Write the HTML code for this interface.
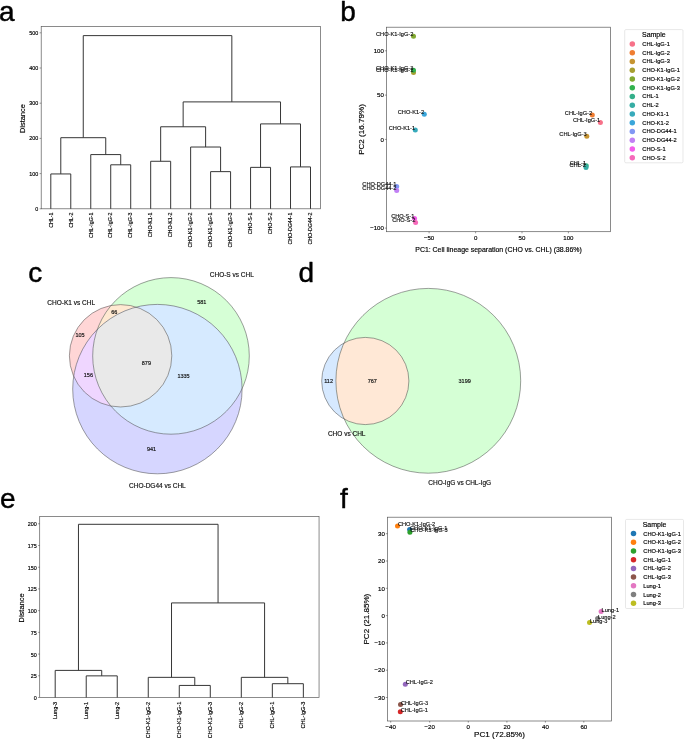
<!DOCTYPE html>
<html lang="en"><head><meta charset="utf-8"><title>Figure</title>
<style>html,body{margin:0;padding:0;background:#fff;}body{width:685px;height:740px;overflow:hidden;font-family:"Liberation Sans", sans-serif;}svg{display:block;font-family:"Liberation Sans", sans-serif;will-change:transform;}text{font-family:"Liberation Sans", sans-serif;}</style></head><body>
<svg width="685" height="740" viewBox="0 0 685 740">
<rect x="0" y="0" width="685" height="740" fill="#fff"/>
<text x="-0.9" y="20.7" font-size="28" text-anchor="start" fill="#000" stroke="#000" stroke-width="0.45" stroke-linejoin="round">a</text>
<text x="340.3" y="20.6" font-size="28" text-anchor="start" fill="#000" stroke="#000" stroke-width="0.45" stroke-linejoin="round">b</text>
<text x="28.25" y="281.9" font-size="28" text-anchor="start" fill="#000" stroke="#000" stroke-width="0.45" stroke-linejoin="round">c</text>
<text x="298.4" y="281.8" font-size="28" text-anchor="start" fill="#000" stroke="#000" stroke-width="0.45" stroke-linejoin="round">d</text>
<text x="0" y="508.1" font-size="28" text-anchor="start" fill="#000" stroke="#000" stroke-width="0.45" stroke-linejoin="round">e</text>
<text x="339.9" y="507.8" font-size="28" text-anchor="start" fill="#000" stroke="#000" stroke-width="0.45" stroke-linejoin="round">f</text>
<g id="panel-a">
<rect x="41.2" y="26.4" width="279.4" height="182.4" stroke="#5a5a5a" stroke-width="0.7" fill="none"/>
<path d="M50.8 208.8V173.95H70.78V208.8M110.73 208.8V164.8H130.71V208.8M90.75 208.8V154.59H120.72V164.8M60.79 173.95V137.7H105.74V154.59M150.68 208.8V161.28H170.66V208.8M210.62 208.8V171.63H230.59V208.8M190.64 208.8V147.02H220.6V171.63M160.67 161.28V126.78H205.62V147.02M250.57 208.8V167.37H270.55V208.8M290.52 208.8V166.91H310.5V208.8M260.56 167.37V123.9H300.51V166.91M183.15 126.78V101.9H280.53V123.9M83.26 137.7V35.62H231.84V101.9" fill="none" stroke="#363636" stroke-width="1" stroke-linejoin="miter"/>
<line x1="39.6" y1="208.8" x2="41.2" y2="208.8" stroke="#333" stroke-width="0.5"/>
<text x="38.2" y="210.74" font-size="5.4" text-anchor="end" fill="#000" stroke="#000" stroke-width="0.16">0</text>
<line x1="39.6" y1="173.6" x2="41.2" y2="173.6" stroke="#333" stroke-width="0.5"/>
<text x="38.2" y="175.54" font-size="5.4" text-anchor="end" fill="#000" stroke="#000" stroke-width="0.16">100</text>
<line x1="39.6" y1="138.4" x2="41.2" y2="138.4" stroke="#333" stroke-width="0.5"/>
<text x="38.2" y="140.34" font-size="5.4" text-anchor="end" fill="#000" stroke="#000" stroke-width="0.16">200</text>
<line x1="39.6" y1="103.2" x2="41.2" y2="103.2" stroke="#333" stroke-width="0.5"/>
<text x="38.2" y="105.14" font-size="5.4" text-anchor="end" fill="#000" stroke="#000" stroke-width="0.16">300</text>
<line x1="39.6" y1="68" x2="41.2" y2="68" stroke="#333" stroke-width="0.5"/>
<text x="38.2" y="69.94" font-size="5.4" text-anchor="end" fill="#000" stroke="#000" stroke-width="0.16">400</text>
<line x1="39.6" y1="32.8" x2="41.2" y2="32.8" stroke="#333" stroke-width="0.5"/>
<text x="38.2" y="34.74" font-size="5.4" text-anchor="end" fill="#000" stroke="#000" stroke-width="0.16">500</text>
<text x="52.56" y="212.5" font-size="5.3" text-anchor="end" fill="#000" transform="rotate(-90 52.56 212.5)" stroke="#000" stroke-width="0.16">CHL-1</text>
<text x="72.53" y="212.5" font-size="5.3" text-anchor="end" fill="#000" transform="rotate(-90 72.53 212.5)" stroke="#000" stroke-width="0.16">CHL-2</text>
<text x="92.51" y="212.5" font-size="5.3" text-anchor="end" fill="#000" transform="rotate(-90 92.51 212.5)" stroke="#000" stroke-width="0.16">CHL-IgG-1</text>
<text x="112.49" y="212.5" font-size="5.3" text-anchor="end" fill="#000" transform="rotate(-90 112.49 212.5)" stroke="#000" stroke-width="0.16">CHL-IgG-2</text>
<text x="132.47" y="212.5" font-size="5.3" text-anchor="end" fill="#000" transform="rotate(-90 132.47 212.5)" stroke="#000" stroke-width="0.16">CHL-IgG-3</text>
<text x="152.44" y="212.5" font-size="5.3" text-anchor="end" fill="#000" transform="rotate(-90 152.44 212.5)" stroke="#000" stroke-width="0.16">CHO-K1-1</text>
<text x="172.42" y="212.5" font-size="5.3" text-anchor="end" fill="#000" transform="rotate(-90 172.42 212.5)" stroke="#000" stroke-width="0.16">CHO-K1-2</text>
<text x="192.4" y="212.5" font-size="5.3" text-anchor="end" fill="#000" transform="rotate(-90 192.4 212.5)" stroke="#000" stroke-width="0.16">CHO-K1-IgG-2</text>
<text x="212.37" y="212.5" font-size="5.3" text-anchor="end" fill="#000" transform="rotate(-90 212.37 212.5)" stroke="#000" stroke-width="0.16">CHO-K1-IgG-1</text>
<text x="232.35" y="212.5" font-size="5.3" text-anchor="end" fill="#000" transform="rotate(-90 232.35 212.5)" stroke="#000" stroke-width="0.16">CHO-K1-IgG-3</text>
<text x="252.33" y="212.5" font-size="5.3" text-anchor="end" fill="#000" transform="rotate(-90 252.33 212.5)" stroke="#000" stroke-width="0.16">CHO-S-1</text>
<text x="272.3" y="212.5" font-size="5.3" text-anchor="end" fill="#000" transform="rotate(-90 272.3 212.5)" stroke="#000" stroke-width="0.16">CHO-S-2</text>
<text x="292.28" y="212.5" font-size="5.3" text-anchor="end" fill="#000" transform="rotate(-90 292.28 212.5)" stroke="#000" stroke-width="0.16">CHO-DG44-1</text>
<text x="312.26" y="212.5" font-size="5.3" text-anchor="end" fill="#000" transform="rotate(-90 312.26 212.5)" stroke="#000" stroke-width="0.16">CHO-DG44-2</text>
<text x="25.3" y="118.6" font-size="7.45" text-anchor="middle" fill="#000" transform="rotate(-90 25.3 118.6)" stroke="#000" stroke-width="0.16">Distance</text>
</g>
<g id="panel-b">
<rect x="386.5" y="27.2" width="224.1" height="204.5" stroke="#5a5a5a" stroke-width="0.7" fill="none"/>
<line x1="429.1" y1="231.7" x2="429.1" y2="233.3" stroke="#333" stroke-width="0.5"/>
<text x="429.1" y="239.8" font-size="6.1" text-anchor="middle" fill="#000" stroke="#000" stroke-width="0.16">−50</text>
<line x1="475.6" y1="231.7" x2="475.6" y2="233.3" stroke="#333" stroke-width="0.5"/>
<text x="475.6" y="239.8" font-size="6.1" text-anchor="middle" fill="#000" stroke="#000" stroke-width="0.16">0</text>
<line x1="522" y1="231.7" x2="522" y2="233.3" stroke="#333" stroke-width="0.5"/>
<text x="522" y="239.8" font-size="6.1" text-anchor="middle" fill="#000" stroke="#000" stroke-width="0.16">50</text>
<line x1="568.4" y1="231.7" x2="568.4" y2="233.3" stroke="#333" stroke-width="0.5"/>
<text x="568.4" y="239.8" font-size="6.1" text-anchor="middle" fill="#000" stroke="#000" stroke-width="0.16">100</text>
<line x1="384.9" y1="50.8" x2="386.5" y2="50.8" stroke="#333" stroke-width="0.5"/>
<text x="383.9" y="53" font-size="6.1" text-anchor="end" fill="#000" stroke="#000" stroke-width="0.16">100</text>
<line x1="384.9" y1="95.1" x2="386.5" y2="95.1" stroke="#333" stroke-width="0.5"/>
<text x="383.9" y="97.3" font-size="6.1" text-anchor="end" fill="#000" stroke="#000" stroke-width="0.16">50</text>
<line x1="384.9" y1="139.4" x2="386.5" y2="139.4" stroke="#333" stroke-width="0.5"/>
<text x="383.9" y="141.6" font-size="6.1" text-anchor="end" fill="#000" stroke="#000" stroke-width="0.16">0</text>
<line x1="384.9" y1="228.1" x2="386.5" y2="228.1" stroke="#333" stroke-width="0.5"/>
<text x="383.9" y="230.3" font-size="6.1" text-anchor="end" fill="#000" stroke="#000" stroke-width="0.16">−100</text>
<circle cx="600.4" cy="122.5" r="2.5" fill="#f77189"/>
<circle cx="592.3" cy="115.1" r="2.5" fill="#ef7d32"/>
<circle cx="586.8" cy="136.2" r="2.5" fill="#c69432"/>
<circle cx="413.5" cy="72.6" r="2.5" fill="#a79f31"/>
<circle cx="413.5" cy="36.2" r="2.5" fill="#82a931"/>
<circle cx="413.5" cy="70.3" r="2.5" fill="#32b24e"/>
<circle cx="586.3" cy="165.8" r="2.5" fill="#34af8a"/>
<circle cx="586" cy="167.6" r="2.5" fill="#36ada4"/>
<circle cx="415.3" cy="130" r="2.5" fill="#37aabb"/>
<circle cx="424.3" cy="114.2" r="2.5" fill="#3aa6da"/>
<circle cx="396.7" cy="186.5" r="2.5" fill="#8197f4"/>
<circle cx="396.7" cy="190.5" r="2.5" fill="#c180f4"/>
<circle cx="414.6" cy="218.4" r="2.5" fill="#f45deb"/>
<circle cx="415.6" cy="222.4" r="2.5" fill="#f669ba"/>
<text x="600.2" y="122.1" font-size="5.65" text-anchor="end" fill="#111" stroke="#111" stroke-width="0.16">CHL-IgG-1</text>
<text x="592.1" y="114.7" font-size="5.65" text-anchor="end" fill="#111" stroke="#111" stroke-width="0.16">CHL-IgG-2</text>
<text x="586.6" y="135.8" font-size="5.65" text-anchor="end" fill="#111" stroke="#111" stroke-width="0.16">CHL-IgG-3</text>
<text x="413.3" y="72.2" font-size="5.65" text-anchor="end" fill="#111" stroke="#111" stroke-width="0.16">CHO-K1-IgG-1</text>
<text x="413.3" y="35.8" font-size="5.65" text-anchor="end" fill="#111" stroke="#111" stroke-width="0.16">CHO-K1-IgG-2</text>
<text x="413.3" y="69.9" font-size="5.65" text-anchor="end" fill="#111" stroke="#111" stroke-width="0.16">CHO-K1-IgG-3</text>
<text x="586.1" y="165.4" font-size="5.65" text-anchor="end" fill="#111" stroke="#111" stroke-width="0.16">CHL-1</text>
<text x="585.8" y="167.2" font-size="5.65" text-anchor="end" fill="#111" stroke="#111" stroke-width="0.16">CHL-2</text>
<text x="415.1" y="129.6" font-size="5.65" text-anchor="end" fill="#111" stroke="#111" stroke-width="0.16">CHO-K1-1</text>
<text x="424.1" y="113.8" font-size="5.65" text-anchor="end" fill="#111" stroke="#111" stroke-width="0.16">CHO-K1-2</text>
<text x="396.5" y="186.1" font-size="5.65" text-anchor="end" fill="#111" stroke="#111" stroke-width="0.16">CHO-DG44-1</text>
<text x="396.5" y="190.1" font-size="5.65" text-anchor="end" fill="#111" stroke="#111" stroke-width="0.16">CHO-DG44-2</text>
<text x="414.4" y="218" font-size="5.65" text-anchor="end" fill="#111" stroke="#111" stroke-width="0.16">CHO-S-1</text>
<text x="415.4" y="222" font-size="5.65" text-anchor="end" fill="#111" stroke="#111" stroke-width="0.16">CHO-S-2</text>
<text x="498.55" y="251.9" font-size="6.95" text-anchor="middle" fill="#000" stroke="#000" stroke-width="0.16">PC1: Cell lineage separation (CHO vs. CHL) (38.86%)</text>
<text x="364" y="129.45" font-size="8.1" text-anchor="middle" fill="#000" transform="rotate(-90 364 129.45)" stroke="#000" stroke-width="0.16">PC2 (16.79%)</text>
<rect x="624.7" y="29.6" width="58.3" height="133.2" stroke="#d9d9d9" stroke-width="0.6" fill="#fff" rx="1.2"/>
<text x="653.85" y="37.1" font-size="7" text-anchor="middle" fill="#000" stroke="#000" stroke-width="0.16">Sample</text>
<circle cx="632.3" cy="43.9" r="2.75" fill="#f77189"/>
<text x="642.3" y="45.95" font-size="5.7" text-anchor="start" fill="#000" stroke="#000" stroke-width="0.16">CHL-IgG-1</text>
<circle cx="632.3" cy="52.65" r="2.75" fill="#ef7d32"/>
<text x="642.3" y="54.71" font-size="5.7" text-anchor="start" fill="#000" stroke="#000" stroke-width="0.16">CHL-IgG-2</text>
<circle cx="632.3" cy="61.41" r="2.75" fill="#c69432"/>
<text x="642.3" y="63.46" font-size="5.7" text-anchor="start" fill="#000" stroke="#000" stroke-width="0.16">CHL-IgG-3</text>
<circle cx="632.3" cy="70.16" r="2.75" fill="#a79f31"/>
<text x="642.3" y="72.21" font-size="5.7" text-anchor="start" fill="#000" stroke="#000" stroke-width="0.16">CHO-K1-IgG-1</text>
<circle cx="632.3" cy="78.92" r="2.75" fill="#82a931"/>
<text x="642.3" y="80.97" font-size="5.7" text-anchor="start" fill="#000" stroke="#000" stroke-width="0.16">CHO-K1-IgG-2</text>
<circle cx="632.3" cy="87.67" r="2.75" fill="#32b24e"/>
<text x="642.3" y="89.72" font-size="5.7" text-anchor="start" fill="#000" stroke="#000" stroke-width="0.16">CHO-K1-IgG-3</text>
<circle cx="632.3" cy="96.42" r="2.75" fill="#34af8a"/>
<text x="642.3" y="98.48" font-size="5.7" text-anchor="start" fill="#000" stroke="#000" stroke-width="0.16">CHL-1</text>
<circle cx="632.3" cy="105.18" r="2.75" fill="#36ada4"/>
<text x="642.3" y="107.23" font-size="5.7" text-anchor="start" fill="#000" stroke="#000" stroke-width="0.16">CHL-2</text>
<circle cx="632.3" cy="113.93" r="2.75" fill="#37aabb"/>
<text x="642.3" y="115.98" font-size="5.7" text-anchor="start" fill="#000" stroke="#000" stroke-width="0.16">CHO-K1-1</text>
<circle cx="632.3" cy="122.69" r="2.75" fill="#3aa6da"/>
<text x="642.3" y="124.74" font-size="5.7" text-anchor="start" fill="#000" stroke="#000" stroke-width="0.16">CHO-K1-2</text>
<circle cx="632.3" cy="131.44" r="2.75" fill="#8197f4"/>
<text x="642.3" y="133.49" font-size="5.7" text-anchor="start" fill="#000" stroke="#000" stroke-width="0.16">CHO-DG44-1</text>
<circle cx="632.3" cy="140.19" r="2.75" fill="#c180f4"/>
<text x="642.3" y="142.25" font-size="5.7" text-anchor="start" fill="#000" stroke="#000" stroke-width="0.16">CHO-DG44-2</text>
<circle cx="632.3" cy="148.95" r="2.75" fill="#f45deb"/>
<text x="642.3" y="151" font-size="5.7" text-anchor="start" fill="#000" stroke="#000" stroke-width="0.16">CHO-S-1</text>
<circle cx="632.3" cy="157.7" r="2.75" fill="#f669ba"/>
<text x="642.3" y="159.75" font-size="5.7" text-anchor="start" fill="#000" stroke="#000" stroke-width="0.16">CHO-S-2</text>
</g>
<g id="panel-c">
<defs>
<clipPath id="clipA"><circle cx="120.6" cy="355.8" r="51.2"/></clipPath>
<clipPath id="clipB"><circle cx="171" cy="355.9" r="78.3"/></clipPath>
<clipPath id="clipC"><circle cx="157.4" cy="389.1" r="84.7"/></clipPath>
</defs>
<circle cx="120.6" cy="355.8" r="51.2" fill="#ffd6d6" stroke="none" stroke-width="0"/>
<circle cx="171" cy="355.9" r="78.3" fill="#d6ffd6" stroke="none" stroke-width="0"/>
<circle cx="157.4" cy="389.1" r="84.7" fill="#d6d6ff" stroke="none" stroke-width="0"/>
<circle cx="171" cy="355.9" r="78.3" fill="#ffe9d1" stroke="none" stroke-width="0" clip-path="url(#clipA)"/>
<circle cx="157.4" cy="389.1" r="84.7" fill="#efd6ff" stroke="none" stroke-width="0" clip-path="url(#clipA)"/>
<circle cx="157.4" cy="389.1" r="84.7" fill="#d6eaff" stroke="none" stroke-width="0" clip-path="url(#clipB)"/>
<g clip-path="url(#clipA)"><circle cx="157.4" cy="389.1" r="84.7" fill="#e9e9e9" stroke="none" stroke-width="0" clip-path="url(#clipB)"/></g>
<circle cx="120.6" cy="355.8" r="51.2" fill="none" stroke="#474747" stroke-width="0.52"/>
<circle cx="171" cy="355.9" r="78.3" fill="none" stroke="#474747" stroke-width="0.52"/>
<circle cx="157.4" cy="389.1" r="84.7" fill="none" stroke="#474747" stroke-width="0.52"/>
<text x="114.2" y="314.48" font-size="5.5" text-anchor="middle" fill="#111" stroke="#111" stroke-width="0.16">66</text>
<text x="80.1" y="337.38" font-size="5.5" text-anchor="middle" fill="#111" stroke="#111" stroke-width="0.16">105</text>
<text x="88.4" y="377.28" font-size="5.5" text-anchor="middle" fill="#111" stroke="#111" stroke-width="0.16">156</text>
<text x="146.4" y="365.18" font-size="5.5" text-anchor="middle" fill="#111" stroke="#111" stroke-width="0.16">879</text>
<text x="201.8" y="304.48" font-size="5.5" text-anchor="middle" fill="#111" stroke="#111" stroke-width="0.16">581</text>
<text x="183.5" y="377.78" font-size="5.5" text-anchor="middle" fill="#111" stroke="#111" stroke-width="0.16">1335</text>
<text x="151.5" y="451.28" font-size="5.5" text-anchor="middle" fill="#111" stroke="#111" stroke-width="0.16">941</text>
<text x="71.2" y="305.04" font-size="6.5" text-anchor="middle" fill="#111" stroke="#111" stroke-width="0.16">CHO-K1 vs CHL</text>
<text x="231.8" y="277.44" font-size="6.5" text-anchor="middle" fill="#111" stroke="#111" stroke-width="0.16">CHO-S vs CHL</text>
<text x="157.4" y="487.54" font-size="6.5" text-anchor="middle" fill="#111" stroke="#111" stroke-width="0.16">CHO-DG44 vs CHL</text>
</g>
<g id="panel-d">
<defs><clipPath id="clipDS"><circle cx="365.3" cy="381" r="43.6"/></clipPath></defs>
<circle cx="365.3" cy="381" r="43.6" fill="#d6e9ff" stroke="none" stroke-width="0"/>
<circle cx="428.3" cy="380.8" r="92.4" fill="#d5ffd5" stroke="none" stroke-width="0"/>
<circle cx="428.3" cy="380.8" r="92.4" fill="#ffe8d6" stroke="none" stroke-width="0" clip-path="url(#clipDS)"/>
<circle cx="365.3" cy="381" r="43.6" fill="none" stroke="#474747" stroke-width="0.52"/>
<circle cx="428.3" cy="380.8" r="92.4" fill="none" stroke="#474747" stroke-width="0.52"/>
<text x="328.6" y="382.98" font-size="5.5" text-anchor="middle" fill="#111" stroke="#111" stroke-width="0.16">112</text>
<text x="372.3" y="382.98" font-size="5.5" text-anchor="middle" fill="#111" stroke="#111" stroke-width="0.16">767</text>
<text x="464.7" y="382.98" font-size="5.5" text-anchor="middle" fill="#111" stroke="#111" stroke-width="0.16">3199</text>
<text x="346.7" y="436.14" font-size="6.5" text-anchor="middle" fill="#111" stroke="#111" stroke-width="0.16">CHO vs CHL</text>
<text x="459.7" y="485.04" font-size="6.5" text-anchor="middle" fill="#111" stroke="#111" stroke-width="0.16">CHO-IgG vs CHL-IgG</text>
</g>
<g id="panel-e">
<rect x="39.7" y="516.4" width="279.35" height="181.1" stroke="#5a5a5a" stroke-width="0.7" fill="none"/>
<path d="M86.22 697.5V675.87H117.24V697.5M55.2 697.5V670.4H101.73V675.87M179.28 697.5V685.43H210.29V697.5M148.26 697.5V677.35H194.78V685.43M272.33 697.5V683.69H303.35V697.5M241.31 697.5V677.35H287.84V683.69M171.52 677.35V602.91H264.58V677.35M78.46 670.4V524.3H218.05V602.91" fill="none" stroke="#363636" stroke-width="1" stroke-linejoin="miter"/>
<line x1="38.1" y1="697.5" x2="39.7" y2="697.5" stroke="#333" stroke-width="0.5"/>
<text x="36.7" y="699.94" font-size="5.4" text-anchor="end" fill="#000" stroke="#000" stroke-width="0.16">0</text>
<line x1="38.1" y1="675.78" x2="39.7" y2="675.78" stroke="#333" stroke-width="0.5"/>
<text x="36.7" y="678.23" font-size="5.4" text-anchor="end" fill="#000" stroke="#000" stroke-width="0.16">25</text>
<line x1="38.1" y1="654.07" x2="39.7" y2="654.07" stroke="#333" stroke-width="0.5"/>
<text x="36.7" y="656.51" font-size="5.4" text-anchor="end" fill="#000" stroke="#000" stroke-width="0.16">50</text>
<line x1="38.1" y1="632.36" x2="39.7" y2="632.36" stroke="#333" stroke-width="0.5"/>
<text x="36.7" y="634.8" font-size="5.4" text-anchor="end" fill="#000" stroke="#000" stroke-width="0.16">75</text>
<line x1="38.1" y1="610.64" x2="39.7" y2="610.64" stroke="#333" stroke-width="0.5"/>
<text x="36.7" y="613.08" font-size="5.4" text-anchor="end" fill="#000" stroke="#000" stroke-width="0.16">100</text>
<line x1="38.1" y1="588.92" x2="39.7" y2="588.92" stroke="#333" stroke-width="0.5"/>
<text x="36.7" y="591.37" font-size="5.4" text-anchor="end" fill="#000" stroke="#000" stroke-width="0.16">125</text>
<line x1="38.1" y1="567.21" x2="39.7" y2="567.21" stroke="#333" stroke-width="0.5"/>
<text x="36.7" y="569.65" font-size="5.4" text-anchor="end" fill="#000" stroke="#000" stroke-width="0.16">150</text>
<line x1="38.1" y1="545.5" x2="39.7" y2="545.5" stroke="#333" stroke-width="0.5"/>
<text x="36.7" y="547.94" font-size="5.4" text-anchor="end" fill="#000" stroke="#000" stroke-width="0.16">175</text>
<line x1="38.1" y1="523.78" x2="39.7" y2="523.78" stroke="#333" stroke-width="0.5"/>
<text x="36.7" y="526.22" font-size="5.4" text-anchor="end" fill="#000" stroke="#000" stroke-width="0.16">200</text>
<text x="57.03" y="701.8" font-size="5.5" text-anchor="end" fill="#000" transform="rotate(-90 57.03 701.8)" stroke="#000" stroke-width="0.16">Lung-3</text>
<text x="88.05" y="701.8" font-size="5.5" text-anchor="end" fill="#000" transform="rotate(-90 88.05 701.8)" stroke="#000" stroke-width="0.16">Lung-1</text>
<text x="119.07" y="701.8" font-size="5.5" text-anchor="end" fill="#000" transform="rotate(-90 119.07 701.8)" stroke="#000" stroke-width="0.16">Lung-2</text>
<text x="150.09" y="701.8" font-size="5.5" text-anchor="end" fill="#000" transform="rotate(-90 150.09 701.8)" stroke="#000" stroke-width="0.16">CHO-K1-IgG-2</text>
<text x="181.11" y="701.8" font-size="5.5" text-anchor="end" fill="#000" transform="rotate(-90 181.11 701.8)" stroke="#000" stroke-width="0.16">CHO-K1-IgG-1</text>
<text x="212.12" y="701.8" font-size="5.5" text-anchor="end" fill="#000" transform="rotate(-90 212.12 701.8)" stroke="#000" stroke-width="0.16">CHO-K1-IgG-3</text>
<text x="243.14" y="701.8" font-size="5.5" text-anchor="end" fill="#000" transform="rotate(-90 243.14 701.8)" stroke="#000" stroke-width="0.16">CHL-IgG-2</text>
<text x="274.16" y="701.8" font-size="5.5" text-anchor="end" fill="#000" transform="rotate(-90 274.16 701.8)" stroke="#000" stroke-width="0.16">CHL-IgG-1</text>
<text x="305.18" y="701.8" font-size="5.5" text-anchor="end" fill="#000" transform="rotate(-90 305.18 701.8)" stroke="#000" stroke-width="0.16">CHL-IgG-3</text>
<text x="24" y="607.95" font-size="7.45" text-anchor="middle" fill="#000" transform="rotate(-90 24 607.95)" stroke="#000" stroke-width="0.16">Distance</text>
</g>
<g id="panel-f">
<rect x="387.5" y="517.2" width="223.9" height="203.8" stroke="#5a5a5a" stroke-width="0.7" fill="none"/>
<line x1="390.7" y1="721" x2="390.7" y2="722.6" stroke="#333" stroke-width="0.5"/>
<text x="390.7" y="729.2" font-size="6.1" text-anchor="middle" fill="#000" stroke="#000" stroke-width="0.16">−40</text>
<line x1="429.7" y1="721" x2="429.7" y2="722.6" stroke="#333" stroke-width="0.5"/>
<text x="429.7" y="729.2" font-size="6.1" text-anchor="middle" fill="#000" stroke="#000" stroke-width="0.16">−20</text>
<line x1="468.3" y1="721" x2="468.3" y2="722.6" stroke="#333" stroke-width="0.5"/>
<text x="468.3" y="729.2" font-size="6.1" text-anchor="middle" fill="#000" stroke="#000" stroke-width="0.16">0</text>
<line x1="506.9" y1="721" x2="506.9" y2="722.6" stroke="#333" stroke-width="0.5"/>
<text x="506.9" y="729.2" font-size="6.1" text-anchor="middle" fill="#000" stroke="#000" stroke-width="0.16">20</text>
<line x1="545.4" y1="721" x2="545.4" y2="722.6" stroke="#333" stroke-width="0.5"/>
<text x="545.4" y="729.2" font-size="6.1" text-anchor="middle" fill="#000" stroke="#000" stroke-width="0.16">40</text>
<line x1="583.8" y1="721" x2="583.8" y2="722.6" stroke="#333" stroke-width="0.5"/>
<text x="583.8" y="729.2" font-size="6.1" text-anchor="middle" fill="#000" stroke="#000" stroke-width="0.16">60</text>
<line x1="385.9" y1="533.7" x2="387.5" y2="533.7" stroke="#333" stroke-width="0.5"/>
<text x="384.9" y="535.9" font-size="6.1" text-anchor="end" fill="#000" stroke="#000" stroke-width="0.16">30</text>
<line x1="385.9" y1="561" x2="387.5" y2="561" stroke="#333" stroke-width="0.5"/>
<text x="384.9" y="563.2" font-size="6.1" text-anchor="end" fill="#000" stroke="#000" stroke-width="0.16">20</text>
<line x1="385.9" y1="588.3" x2="387.5" y2="588.3" stroke="#333" stroke-width="0.5"/>
<text x="384.9" y="590.5" font-size="6.1" text-anchor="end" fill="#000" stroke="#000" stroke-width="0.16">10</text>
<line x1="385.9" y1="615.6" x2="387.5" y2="615.6" stroke="#333" stroke-width="0.5"/>
<text x="384.9" y="617.8" font-size="6.1" text-anchor="end" fill="#000" stroke="#000" stroke-width="0.16">0</text>
<line x1="385.9" y1="642.9" x2="387.5" y2="642.9" stroke="#333" stroke-width="0.5"/>
<text x="384.9" y="645.1" font-size="6.1" text-anchor="end" fill="#000" stroke="#000" stroke-width="0.16">−10</text>
<line x1="385.9" y1="670.2" x2="387.5" y2="670.2" stroke="#333" stroke-width="0.5"/>
<text x="384.9" y="672.4" font-size="6.1" text-anchor="end" fill="#000" stroke="#000" stroke-width="0.16">−20</text>
<line x1="385.9" y1="697.5" x2="387.5" y2="697.5" stroke="#333" stroke-width="0.5"/>
<text x="384.9" y="699.7" font-size="6.1" text-anchor="end" fill="#000" stroke="#000" stroke-width="0.16">−30</text>
<circle cx="409.6" cy="529.5" r="2.5" fill="#1f77b4"/>
<circle cx="397.5" cy="525.9" r="2.5" fill="#ff7f0e"/>
<circle cx="409.9" cy="532.3" r="2.5" fill="#2ca02c"/>
<circle cx="400.3" cy="711.7" r="2.5" fill="#d62728"/>
<circle cx="405.3" cy="684.3" r="2.5" fill="#9467bd"/>
<circle cx="400.5" cy="704.4" r="2.5" fill="#8c564b"/>
<circle cx="601.1" cy="611.5" r="2.5" fill="#e377c2"/>
<circle cx="597.6" cy="618.5" r="2.5" fill="#7f7f7f"/>
<circle cx="589.5" cy="622.4" r="2.5" fill="#bcbd22"/>
<text x="410" y="529.6" font-size="5.65" text-anchor="start" fill="#111" stroke="#111" stroke-width="0.16">CHO-K1-IgG-1</text>
<text x="397.9" y="526" font-size="5.65" text-anchor="start" fill="#111" stroke="#111" stroke-width="0.16">CHO-K1-IgG-2</text>
<text x="410.3" y="532.4" font-size="5.65" text-anchor="start" fill="#111" stroke="#111" stroke-width="0.16">CHO-K1-IgG-3</text>
<text x="400.7" y="711.8" font-size="5.65" text-anchor="start" fill="#111" stroke="#111" stroke-width="0.16">CHL-IgG-1</text>
<text x="405.7" y="684.4" font-size="5.65" text-anchor="start" fill="#111" stroke="#111" stroke-width="0.16">CHL-IgG-2</text>
<text x="400.9" y="704.5" font-size="5.65" text-anchor="start" fill="#111" stroke="#111" stroke-width="0.16">CHL-IgG-3</text>
<text x="601.5" y="611.6" font-size="5.65" text-anchor="start" fill="#111" stroke="#111" stroke-width="0.16">Lung-1</text>
<text x="598" y="618.6" font-size="5.65" text-anchor="start" fill="#111" stroke="#111" stroke-width="0.16">Lung-2</text>
<text x="589.9" y="622.5" font-size="5.65" text-anchor="start" fill="#111" stroke="#111" stroke-width="0.16">Lung-3</text>
<text x="499.45" y="737.2" font-size="8.1" text-anchor="middle" fill="#000" stroke="#000" stroke-width="0.16">PC1 (72.85%)</text>
<text x="368.8" y="619.1" font-size="8.1" text-anchor="middle" fill="#000" transform="rotate(-90 368.8 619.1)" stroke="#000" stroke-width="0.16">PC2 (21.85%)</text>
<rect x="625.5" y="519.4" width="58" height="89.1" stroke="#d9d9d9" stroke-width="0.6" fill="#fff" rx="1.2"/>
<text x="654.5" y="527.2" font-size="7" text-anchor="middle" fill="#000" stroke="#000" stroke-width="0.16">Sample</text>
<circle cx="633.5" cy="533.5" r="2.75" fill="#1f77b4"/>
<text x="643.3" y="535.55" font-size="5.7" text-anchor="start" fill="#000" stroke="#000" stroke-width="0.16">CHO-K1-IgG-1</text>
<circle cx="633.5" cy="542.22" r="2.75" fill="#ff7f0e"/>
<text x="643.3" y="544.27" font-size="5.7" text-anchor="start" fill="#000" stroke="#000" stroke-width="0.16">CHO-K1-IgG-2</text>
<circle cx="633.5" cy="550.94" r="2.75" fill="#2ca02c"/>
<text x="643.3" y="552.99" font-size="5.7" text-anchor="start" fill="#000" stroke="#000" stroke-width="0.16">CHO-K1-IgG-3</text>
<circle cx="633.5" cy="559.66" r="2.75" fill="#d62728"/>
<text x="643.3" y="561.71" font-size="5.7" text-anchor="start" fill="#000" stroke="#000" stroke-width="0.16">CHL-IgG-1</text>
<circle cx="633.5" cy="568.38" r="2.75" fill="#9467bd"/>
<text x="643.3" y="570.43" font-size="5.7" text-anchor="start" fill="#000" stroke="#000" stroke-width="0.16">CHL-IgG-2</text>
<circle cx="633.5" cy="577.1" r="2.75" fill="#8c564b"/>
<text x="643.3" y="579.15" font-size="5.7" text-anchor="start" fill="#000" stroke="#000" stroke-width="0.16">CHL-IgG-3</text>
<circle cx="633.5" cy="585.82" r="2.75" fill="#e377c2"/>
<text x="643.3" y="587.87" font-size="5.7" text-anchor="start" fill="#000" stroke="#000" stroke-width="0.16">Lung-1</text>
<circle cx="633.5" cy="594.54" r="2.75" fill="#7f7f7f"/>
<text x="643.3" y="596.59" font-size="5.7" text-anchor="start" fill="#000" stroke="#000" stroke-width="0.16">Lung-2</text>
<circle cx="633.5" cy="603.26" r="2.75" fill="#bcbd22"/>
<text x="643.3" y="605.31" font-size="5.7" text-anchor="start" fill="#000" stroke="#000" stroke-width="0.16">Lung-3</text>
</g>
</svg></body></html>
